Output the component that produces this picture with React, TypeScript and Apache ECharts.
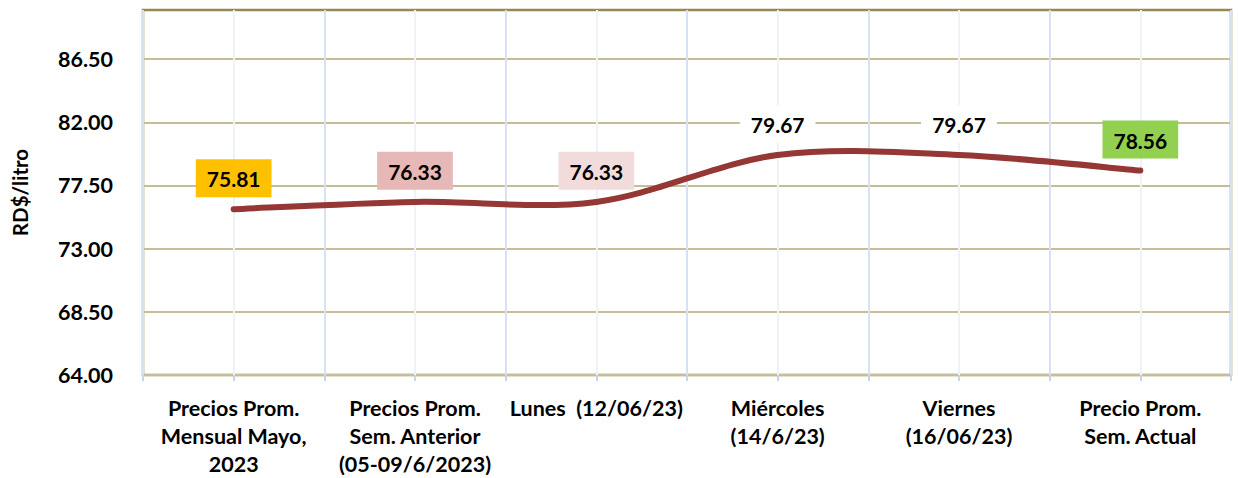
import React, { useEffect, useRef } from "react";
import * as echarts from "echarts";

const categories = [
  "Precios Prom.\nMensual Mayo,\n2023",
  "Precios Prom.\nSem. Anterior\n(05-09/6/2023)",
  "Lunes  (12/06/23)",
  "Miércoles\n(14/6/23)",
  "Viernes\n(16/06/23)",
  "Precio Prom.\nSem. Actual",
];
const prices = [75.81, 76.33, 76.33, 79.67, 79.67, 78.56];
const yTicks = [64, 68.5, 73, 77.5, 82, 86.5];
const yMin = 64;
const yMax = 90;
const yName = "RD$/litro";

const labelColors = ["#FFC000", "#E6B8B7", "#F2DCDB", "#FFFFFF", "#FFFFFF", "#92D050"];
const halfSteps = categories.length;

export default function App() {
  const ref = useRef<HTMLDivElement>(null);
  useEffect(() => {
    if (!ref.current) return;
    const chart = echarts.init(ref.current, null, { renderer: "svg" });
    const font = "Lato, 'Noto Sans', sans-serif";
    const n = prices.length;
    const lineColor = "#953735";

    const renderCurve = (params: any, api: any) => {
      const i = params.dataIndex;
      if (i >= n - 1) return { type: "group", children: [] };
      const clampIdx = (k: number) => Math.max(0, Math.min(n - 1, k));
      const pt = (k: number) => {
        const c = clampIdx(k);
        return api.coord([c, prices[c]]);
      };
      const p0 = pt(i - 1);
      const p1 = pt(i);
      const p2 = pt(i + 1);
      const p3 = pt(i + 2);
      const t = 1 / 6;
      return {
        type: "bezierCurve",
        shape: {
          x1: p1[0],
          y1: p1[1],
          x2: p2[0],
          y2: p2[1],
          cpx1: p1[0] + (p2[0] - p0[0]) * t,
          cpy1: p1[1] + (p2[1] - p0[1]) * t,
          cpx2: p2[0] - (p3[0] - p1[0]) * t,
          cpy2: p2[1] - (p3[1] - p1[1]) * t,
        },
        style: { stroke: lineColor, lineWidth: 6, fill: "none", lineCap: "round" },
      };
    };

    chart.setOption({
      animation: false,
      backgroundColor: "#FFFFFF",
      grid: {
        left: 143,
        right: 7,
        top: 10,
        bottom: 103,
        show: true,
        borderColor: "#948A54",
        borderWidth: 2.5,
        backgroundColor: "transparent",
      },
      xAxis: [
        {
          type: "category",
          data: categories,
          boundaryGap: true,
          z: 1,
          axisLine: { show: false },
          axisTick: { show: true, length: 6, lineStyle: { color: "#C6D5E8", width: 2 } },
          splitLine: { show: true, lineStyle: { color: "#D7E2F0", width: 2 } },
          axisLabel: {
            interval: 0,
            color: "#000000",
            fontFamily: font,
            fontWeight: "bold",
            fontSize: 21.5,
            lineHeight: 28,
            margin: 19,
          },
        },
        {
          type: "value",
          min: 0,
          max: halfSteps,
          interval: 0.5,
          position: "bottom",
          z: 0,
          axisLine: { show: false },
          axisTick: { show: true, length: 6, lineStyle: { color: "#C6D5E8", width: 2 } },
          axisLabel: { show: false },
          splitLine: { show: true, lineStyle: { color: "#EEF3FA", width: 2 } },
        },
      ],
      yAxis: {
        type: "value",
        min: yMin,
        max: yMax,
        name: yName,
        nameLocation: "middle",
        nameGap: 113,
        nameTextStyle: {
          color: "#000000",
          fontFamily: font,
          fontWeight: "bold",
          fontSize: 20.5,
        },
        axisLine: { show: false },
        axisTick: { show: false, customValues: yTicks },
        axisLabel: {
          customValues: yTicks,
          color: "#000000",
          fontFamily: font,
          fontWeight: "bold",
          fontSize: 21.5,
          margin: 30,
          formatter: (v: number) => v.toFixed(2),
        },
        splitLine: { show: true, lineStyle: { color: "#C4BD97", width: 2 } },
      },
      series: [
        {
          type: "custom",
          coordinateSystem: "cartesian2d",
          xAxisIndex: 0,
          yAxisIndex: 0,
          z: 4,
          silent: true,
          renderItem: renderCurve,
          data: prices.map((v, i) => [i, v]),
        },
        {
          type: "line",
          xAxisIndex: 0,
          symbol: "circle",
          symbolSize: 0.1,
          itemStyle: { color: lineColor },
          lineStyle: { color: lineColor, width: 0, opacity: 0 },
          z: 5,
          data: prices.map((v, i) => ({
            value: v,
            label: { backgroundColor: labelColors[i] },
          })),
          label: {
            show: true,
            position: "top",
            distance: 12,
            color: "#000000",
            fontFamily: font,
            fontWeight: "bold",
            fontSize: 21,
            lineHeight: 21,
            padding: [9, 11, 8, 11],
            formatter: (p: any) => Number(p.value).toFixed(2),
          },
        },
      ],
    });
    return () => chart.dispose();
  }, []);
  return (
    <div
      ref={ref}
      style={{ position: "absolute", left: 0, top: 0, width: 1238, height: 478 }}
    />
  );
}
